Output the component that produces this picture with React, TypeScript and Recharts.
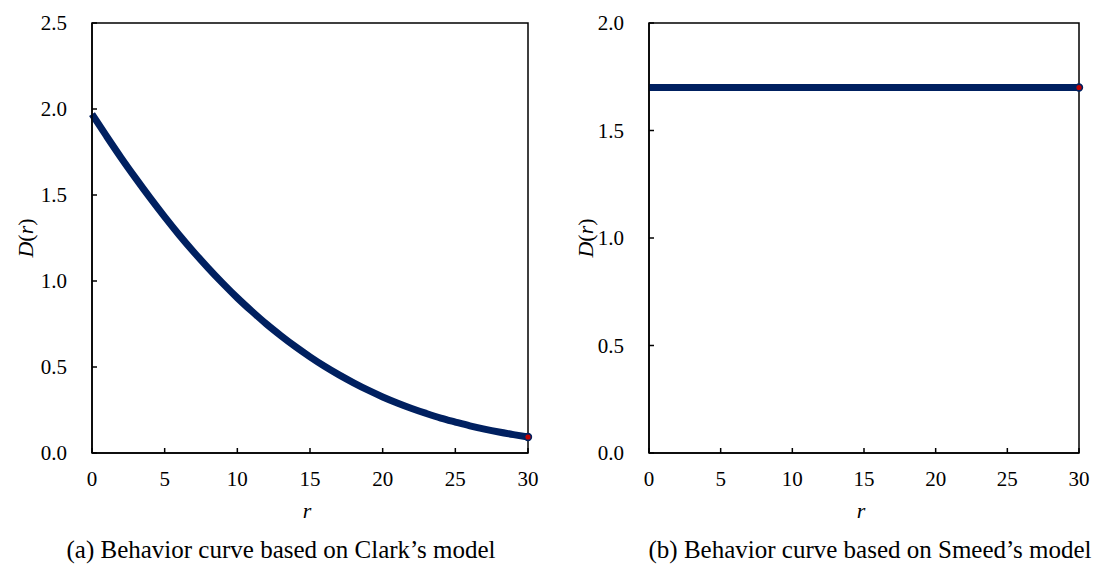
import React from 'react';
import { LineChart, Line, XAxis, YAxis, ReferenceArea } from 'recharts';

const rValues = [0,1,2,3,4,5,6,7,8,9,10,11,12,13,14,15,16,17,18,19,20,21,22,23,24,25,26,27,28,29,30];
const clarkValues = [1.97,1.842,1.717,1.598,1.483,1.373,1.268,1.169,1.075,0.986,0.902,0.824,0.75,0.682,0.618,0.559,0.504,0.454,0.408,0.365,0.326,0.291,0.259,0.23,0.203,0.18,0.158,0.139,0.122,0.107,0.093];
const smeedValues = [1.7,1.7,1.7,1.7,1.7,1.7,1.7,1.7,1.7,1.7,1.7,1.7,1.7,1.7,1.7,1.7,1.7,1.7,1.7,1.7,1.7,1.7,1.7,1.7,1.7,1.7,1.7,1.7,1.7,1.7,1.7];
const xTicks = [0,5,10,15,20,25,30];
const clarkYTicks = [0,0.5,1,1.5,2,2.5];
const smeedYTicks = [0,0.5,1,1.5,2];
const captionA = '(a) Behavior curve based on Clark\u2019s model';
const captionB = '(b) Behavior curve based on Smeed\u2019s model';

const clarkData = rValues.map((r, i) => ({ r, d: clarkValues[i] }));
const smeedData = rValues.map((r, i) => ({ r, d: smeedValues[i] }));

const FONT = "Times New Roman, Liberation Serif, DejaVu Serif, serif";
const NAVY = '#002060';
const TICK_FONT = 21;

const EndDot = (props: any) => {
  const { cx, cy, index, lastIndex } = props;
  if (index !== lastIndex) return <g key={`d${index}`} />;
  return <circle key={`d${index}`} cx={cx} cy={cy} r={3.4} fill="#c00000" stroke={NAVY} strokeWidth={1.6} />;
};

const YLabel = (props: any) => {
  const vb = props.viewBox || {};
  const cx = vb.x + 25;
  const cy = vb.y + vb.height / 2;
  return (
    <text x={cx} y={cy} transform={`rotate(-90, ${cx}, ${cy})`} textAnchor="middle" dominantBaseline="central"
      style={{ fontFamily: FONT }} fontSize={22} fill="#000">
      <tspan fontStyle="italic">D</tspan>
      <tspan>(</tspan>
      <tspan fontStyle="italic">r</tspan>
      <tspan>)</tspan>
    </text>
  );
};

const XLabel = (props: any) => {
  const vb = props.viewBox || {};
  const cx = vb.x + vb.width / 2 - 3;
  return (
    <text x={cx} y={vb.y + 57} textAnchor="middle" dominantBaseline="central"
      style={{ fontFamily: FONT }} fontSize={22} fontStyle="italic" fill="#000">r</text>
  );
};

function Panel(props: { data: any[]; yMax: number; yTicks: number[]; width: number; yWidth: number; rightMargin: number }) {
  const { data, yMax, yTicks, width, yWidth, rightMargin } = props;
  const lastIndex = data.length - 1;
  const tickStyle = { fontFamily: FONT, fontSize: TICK_FONT, fill: '#000' };
  return (
    <LineChart width={width} height={530} data={data} style={{ fontFamily: FONT }}
      margin={{ top: 23, right: rightMargin, bottom: 17, left: 0 }}>
      <XAxis dataKey="r" type="number" domain={[0, 30]} ticks={xTicks} interval={0}
        height={60} tickSize={-5} tickMargin={23}
        axisLine={{ stroke: '#000', strokeWidth: 1.5 }} tickLine={{ stroke: '#000', strokeWidth: 1.5 }}
        tick={tickStyle} label={<XLabel />} />
      <YAxis type="number" domain={[0, yMax]} ticks={yTicks} interval={0} width={yWidth}
        tickSize={-5} tickMargin={30}
        tickFormatter={(v: number) => v.toFixed(1)}
        axisLine={{ stroke: '#000', strokeWidth: 1.5 }} tickLine={{ stroke: '#000', strokeWidth: 1.5 }}
        tick={tickStyle} label={<YLabel />} />
      <ReferenceArea x1={0} x2={30} y1={0} y2={yMax} fill="none" stroke="#000" strokeWidth={1.5} ifOverflow="visible" />
      <Line type="monotone" dataKey="d" stroke={NAVY} strokeWidth={7} strokeLinecap="butt"
        isAnimationActive={false}
        dot={(p: any) => <EndDot {...p} lastIndex={lastIndex} />} activeDot={false} />
    </LineChart>
  );
}

export default function App() {
  return (
    <div style={{ position: 'absolute', left: 0, top: 0, width: 1093, height: 568, background: '#fff', fontFamily: FONT }}>
      <div style={{ position: 'absolute', left: 0, top: 0 }}>
        <Panel data={clarkData} yMax={2.5} yTicks={clarkYTicks} width={560} yWidth={92} rightMargin={32} />
      </div>
      <div style={{ position: 'absolute', left: 560, top: 0 }}>
        <Panel data={smeedData} yMax={2} yTicks={smeedYTicks} width={533} yWidth={89} rightMargin={14} />
      </div>
      <div style={{ position: 'absolute', left: 0, width: 562, top: 535, textAlign: 'center', fontSize: 25, lineHeight: '30px', color: '#000', whiteSpace: 'nowrap' }}>
        {captionA}
      </div>
      <div style={{ position: 'absolute', left: 560, width: 620, top: 535, textAlign: 'center', fontSize: 25, lineHeight: '30px', color: '#000', whiteSpace: 'nowrap' }}>
        {captionB}
      </div>
    </div>
  );
}
